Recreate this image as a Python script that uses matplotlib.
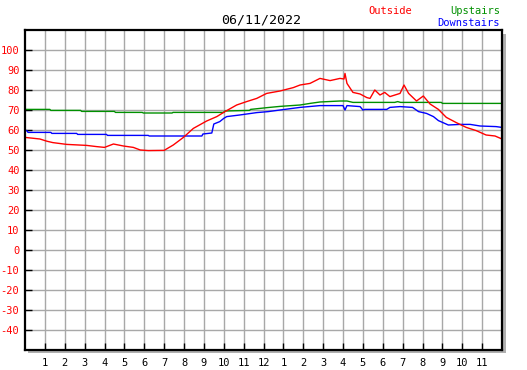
import matplotlib
matplotlib.use("Agg")
import matplotlib.pyplot as plt
import matplotlib.patches as mpatches

title = "06/11/2022"
x_tick_labels = ["1","2","3","4","5","6","7","8","9","10","11","12",
                 "1","2","3","4","5","6","7","8","9","10","11"]
y_ticks = [100, 90, 80, 70, 60, 50, 40, 30, 20, 10, 0, -10, -20, -30, -40]

outside_h = [0.0, 0.75, 1.1, 1.4, 2.1, 3.1, 3.6, 4.0, 4.45, 4.95, 5.45, 5.8, 6.2, 7.0,
             7.46, 7.97, 8.47, 9.14, 9.65, 10.06, 10.65, 11.15, 11.66, 12.16, 12.83,
             13.5, 13.84, 14.34, 14.84, 15.35, 15.85, 16.05, 16.1, 16.2, 16.5, 16.86,
             17.2, 17.36, 17.6, 17.86, 18.1, 18.36, 18.87, 19.07, 19.3, 19.7, 20.04,
             20.38, 20.8, 21.2, 21.7, 22.2, 22.7, 23.2, 23.65, 24.0]
outside_v = [56.3, 55.5, 54.4, 53.7, 52.8, 52.3, 51.7, 51.3, 53.0, 52.0, 51.3, 50.0, 49.7, 49.8,
             52.5, 56.3, 60.8, 64.5, 66.7, 69.2, 72.5, 74.2, 75.8, 78.3, 79.5,
             81.2, 82.5, 83.3, 85.8, 84.7, 85.8, 85.5, 88.3, 83.3, 78.8, 78.0,
             76.2, 75.8, 80.0, 77.5, 78.8, 76.7, 78.3, 82.5, 78.3, 74.5, 77.0,
             73.0, 70.3, 66.3, 63.7, 61.3, 59.7, 57.5, 57.0, 55.5]

upstairs_h = [0.0, 1.25, 1.3, 2.8, 2.85, 4.5, 4.55, 5.9, 5.95, 7.4, 7.45, 10.0, 10.05,
              11.3, 11.35, 12.2, 12.83, 13.84, 14.34, 14.84, 15.85, 16.2, 16.5, 18.6,
              18.75, 18.9, 20.95, 21.0, 24.0]
upstairs_v = [70.3, 70.3, 69.8, 69.8, 69.3, 69.3, 68.8, 68.8, 68.5, 68.5, 68.8, 68.8, 69.5,
              69.8, 70.3, 71.2, 71.8, 72.5, 73.3, 74.0, 74.5, 74.5, 73.8, 73.8,
              74.2, 73.8, 73.8, 73.3, 73.3]

downstairs_h = [0.0, 0.1, 0.15, 1.3, 1.35, 2.6, 2.65, 4.1, 4.15, 6.2, 6.25, 8.9, 8.95,
                9.4, 9.5, 9.8, 10.0, 10.15, 10.8, 11.66, 12.24, 12.83, 13.84, 14.84,
                16.0, 16.1, 16.2, 16.86, 17.0, 17.1, 18.2, 18.36, 18.87, 19.5, 19.8,
                20.2, 20.55, 20.8, 21.3, 21.9, 22.4, 22.9, 23.7, 24.0]
downstairs_v = [59.7, 59.7, 58.8, 58.8, 58.3, 58.3, 57.8, 57.8, 57.3, 57.3, 57.0, 57.0, 58.0,
                58.5, 63.0, 64.2, 65.8, 66.7, 67.5, 68.7, 69.2, 70.0, 71.3, 72.2,
                72.2, 70.0, 72.2, 71.7, 70.0, 70.3, 70.3, 71.3, 71.7, 71.3, 69.2,
                68.3, 66.7, 64.7, 62.5, 62.8, 62.8, 62.0, 61.7, 61.3]

W, H = 527, 370
fig = plt.figure(figsize=(W / 100, H / 100), dpi=100)
fig.patch.set_facecolor("white")
L, R, T, B = 25, 502, 30, 350
ax = fig.add_axes([L / W, (H - B) / H, (R - L) / W, (B - T) / H])
ax.set_xlim(0, 24)
ax.set_ylim(-50, 110)

mono = "DejaVu Sans Mono"

# grid
for hx in range(1, 24):
    ax.axvline(hx, color="#a8a8a8", lw=1.0, zorder=1)
for yv in range(-40, 110, 10):
    ax.axhline(yv, color="#a8a8a8", lw=1.0, zorder=1)

ax.plot(upstairs_h, upstairs_v, color="#009000", lw=1.0, zorder=3)
ax.plot(downstairs_h, downstairs_v, color="#0000ff", lw=1.0, zorder=3)
ax.plot(outside_h, outside_v, color="#ff0000", lw=1.0, zorder=4)

ax.set_xticks(range(1, 24))
ax.set_xticklabels(x_tick_labels, fontfamily=mono, fontsize=7.5)
ax.set_yticks(y_ticks)
ax.set_yticklabels([str(v).replace("-", "\u2212") if False else str(v) for v in y_ticks],
                   fontfamily=mono, fontsize=7.5, color="#ff0000")
ax.tick_params(axis="both", direction="in", length=5, width=1.0, color="black")
ax.tick_params(axis="x", pad=6)
ax.tick_params(axis="y", pad=4)
for s in ax.spines.values():
    s.set_linewidth(1.6)
    s.set_color("black")
    s.set_zorder(5)

# drop shadow right/bottom
fig.add_artist(mpatches.Rectangle(((R + 1) / W, (H - B - 3) / H), 3 / W, (B - T - 1) / H,
                                  transform=fig.transFigure, color="#b0b0b0", lw=0, zorder=0))
fig.add_artist(mpatches.Rectangle(((L + 3) / W, (H - B - 3) / H), (R - L) / W, 2.5 / H,
                                  transform=fig.transFigure, color="#b0b0b0", lw=0, zorder=0))

fig.text(261 / W, 1 - 20 / H, title, ha="center", va="center", fontfamily=mono,
         fontsize=9.5, color="black")
fig.text(390 / W, 1 - 11 / H, "Outside", ha="center", va="center", fontfamily=mono,
         fontsize=7.5, color="#ff0000")
fig.text(500 / W, 1 - 11 / H, "Upstairs", ha="right", va="center", fontfamily=mono,
         fontsize=7.5, color="#009000")
fig.text(500 / W, 1 - 23 / H, "Downstairs", ha="right", va="center", fontfamily=mono,
         fontsize=7.5, color="#0000ff")

fig.savefig("out.png", dpi=100, facecolor="white")
